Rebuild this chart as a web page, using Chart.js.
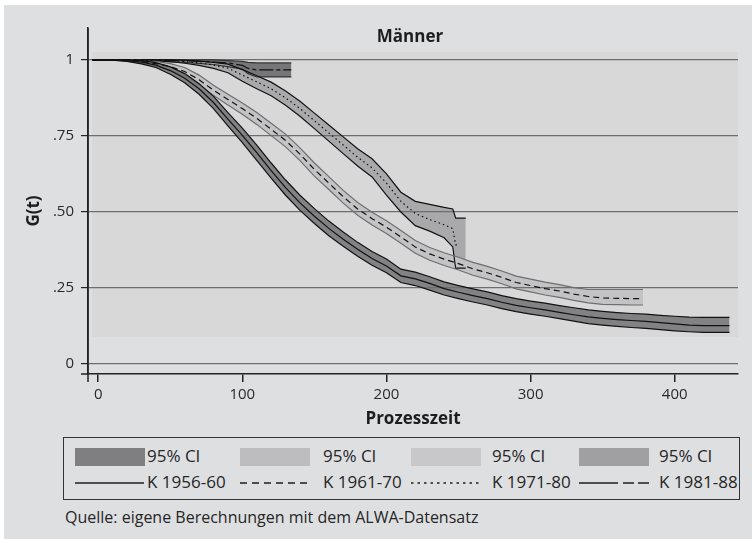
<!DOCTYPE html>
<html>
<head>
<meta charset="utf-8">
<script src="https://cdn.jsdelivr.net/npm/chart.js@4.4.1/dist/chart.umd.min.js"></script>
<style>
  html, body { margin: 0; padding: 0; background: #fff; }
  body { width: 752px; height: 539px; position: relative; overflow: hidden; font-family: "Open Sans", sans-serif; color: #222; }
  #panel { position: absolute; left: 4px; top: 5px; width: 748px; height: 534px; background: #dedfe1; }
  #wrap { position: absolute; left: 0; top: 0; width: 752px; height: 430px; }
  #title { position: absolute; left: 310px; top: 26px; width: 200px; text-align: center; font-size: 17px; line-height: 20px; font-weight: bold; color: #1e1e1e; }
  #ytitle { position: absolute; left: -17px; top: 201px; width: 100px; height: 20px; line-height: 20px; text-align: center; font-size: 17px; font-weight: bold; color: #1e1e1e; transform: rotate(-90deg); }
  .lbox { position: absolute; left: 63px; top: 437px; width: 675px; height: 61px; border: 1px solid #333; }
  .sw { position: absolute; top: 448px; width: 70px; height: 18px; }
  .lt { position: absolute; font-size: 17px; line-height: 20px; white-space: nowrap; color: #262626; }
  .r1 { top: 446px; }
  .r2 { top: 472px; }
  .ls { position: absolute; top: 480px; }
  #src { position: absolute; left: 65px; top: 507px; font-size: 16px; line-height: 20px; color: #262626; white-space: nowrap; }
</style>
</head>
<body>
<div id="panel"></div>
<div id="wrap"><canvas id="kmChart"></canvas></div>
<div id="title">Männer</div>
<div id="ytitle">G(t)</div>

<div class="lbox"></div>
<div class="sw" style="left:75px;background:#7f7f81"></div>
<div class="sw" style="left:240px;background:#bdbdbf"></div>
<div class="sw" style="left:411px;background:#c8c8ca"></div>
<div class="sw" style="left:579px;background:#a0a0a2"></div>
<div class="lt r1" style="left:147px">95% CI</div>
<div class="lt r1" style="left:323px">95% CI</div>
<div class="lt r1" style="left:492px">95% CI</div>
<div class="lt r1" style="left:659px">95% CI</div>
<svg class="ls" style="left:75px" width="70" height="6"><line x1="0" y1="3" x2="69" y2="3" stroke="#1e1e1e" stroke-width="1.5"/></svg>
<svg class="ls" style="left:240px" width="70" height="6"><line x1="0" y1="3" x2="68" y2="3" stroke="#1e1e1e" stroke-width="1.5" stroke-dasharray="7 5"/></svg>
<svg class="ls" style="left:411px" width="70" height="6"><line x1="0" y1="3" x2="69" y2="3" stroke="#1e1e1e" stroke-width="1.5" stroke-dasharray="2.5 4"/></svg>
<svg class="ls" style="left:579px" width="72" height="6"><line x1="0" y1="3" x2="70" y2="3" stroke="#1e1e1e" stroke-width="1.5" stroke-dasharray="39 5 11 4 11"/></svg>
<div class="lt r2" style="left:147px">K 1956-60</div>
<div class="lt r2" style="left:323px">K 1961-70</div>
<div class="lt r2" style="left:492px">K 1971-80</div>
<div class="lt r2" style="left:659px">K 1981-88</div>
<div id="src">Quelle: eigene Berechnungen mit dem ALWA-Datensatz</div>

<script>
// Axis ticks
const xTicks = [0, 100, 200, 300, 400];
const yTicks = [0, 0.25, 0.5, 0.75, 1];
const yTickLabels = ['0', '.25', '.50', '.75', '1'];

// K 1956-60
const t5660 = [-4, 10, 20, 30, 40, 50, 60, 70, 80, 90, 100, 110, 120, 130, 140, 150, 160, 170, 180, 190, 200, 210, 220, 230, 240, 250, 260, 270, 280, 290, 300, 310, 320, 330, 340, 350, 360, 370, 380, 390, 400, 410, 420, 430, 438];
const g5660 = [1.000, 1.000, 0.998, 0.993, 0.983, 0.965, 0.940, 0.905, 0.860, 0.805, 0.752, 0.695, 0.636, 0.580, 0.530, 0.486, 0.446, 0.410, 0.377, 0.347, 0.322, 0.290, 0.280, 0.265, 0.248, 0.236, 0.225, 0.215, 0.203, 0.193, 0.185, 0.178, 0.170, 0.162, 0.155, 0.150, 0.146, 0.143, 0.140, 0.136, 0.132, 0.128, 0.126, 0.126, 0.126];
const lo5660 = [1, 0.999, 0.995, 0.987, 0.975, 0.953, 0.925, 0.887, 0.840, 0.783, 0.728, 0.670, 0.611, 0.555, 0.505, 0.462, 0.422, 0.387, 0.354, 0.325, 0.300, 0.268, 0.258, 0.243, 0.227, 0.215, 0.204, 0.194, 0.182, 0.172, 0.164, 0.157, 0.149, 0.141, 0.133, 0.128, 0.124, 0.120, 0.117, 0.113, 0.109, 0.106, 0.104, 0.104, 0.104];
const hi5660 = [1, 1, 1, 0.998, 0.991, 0.977, 0.955, 0.922, 0.880, 0.827, 0.776, 0.720, 0.661, 0.605, 0.555, 0.511, 0.470, 0.434, 0.400, 0.370, 0.345, 0.312, 0.302, 0.287, 0.270, 0.258, 0.247, 0.237, 0.225, 0.215, 0.207, 0.200, 0.192, 0.185, 0.178, 0.173, 0.169, 0.166, 0.164, 0.160, 0.157, 0.154, 0.153, 0.153, 0.153];

// K 1961-70
const t6170 = [-4, 10, 20, 30, 40, 50, 60, 70, 80, 90, 100, 110, 120, 130, 140, 150, 160, 170, 180, 190, 200, 210, 220, 230, 240, 250, 260, 270, 280, 290, 300, 310, 320, 330, 340, 350, 360, 370, 378];
const g6170 = [1.000, 1.000, 0.999, 0.995, 0.988, 0.978, 0.962, 0.935, 0.900, 0.870, 0.840, 0.808, 0.772, 0.735, 0.690, 0.640, 0.595, 0.550, 0.510, 0.478, 0.450, 0.418, 0.385, 0.362, 0.345, 0.330, 0.313, 0.300, 0.285, 0.268, 0.258, 0.248, 0.240, 0.230, 0.222, 0.217, 0.216, 0.215, 0.215];
const lo6170 = [1, 0.999, 0.996, 0.989, 0.979, 0.966, 0.948, 0.919, 0.883, 0.852, 0.821, 0.788, 0.751, 0.714, 0.669, 0.618, 0.574, 0.529, 0.489, 0.457, 0.429, 0.397, 0.364, 0.341, 0.324, 0.309, 0.292, 0.279, 0.264, 0.247, 0.237, 0.227, 0.219, 0.209, 0.201, 0.196, 0.195, 0.194, 0.194];
const hi6170 = [1, 1, 1, 0.999, 0.995, 0.988, 0.975, 0.950, 0.917, 0.887, 0.858, 0.827, 0.792, 0.756, 0.711, 0.661, 0.616, 0.571, 0.531, 0.499, 0.471, 0.439, 0.406, 0.383, 0.366, 0.351, 0.334, 0.321, 0.306, 0.289, 0.279, 0.269, 0.261, 0.251, 0.245, 0.245, 0.245, 0.245, 0.245];

// K 1971-80
const t7180 = [-4, 10, 20, 30, 40, 50, 60, 70, 80, 90, 100, 110, 120, 130, 140, 150, 160, 170, 180, 190, 200, 210, 220, 230, 240, 246, 248, 255];
const g7180 = [1, 1, 1, 1, 0.999, 0.998, 0.995, 0.990, 0.983, 0.973, 0.950, 0.928, 0.905, 0.875, 0.840, 0.800, 0.760, 0.720, 0.680, 0.645, 0.595, 0.535, 0.495, 0.475, 0.458, 0.445, 0.392, 0.392];
const lo7180 = [1, 1, 1, 1, 0.997, 0.994, 0.989, 0.982, 0.972, 0.958, 0.930, 0.905, 0.882, 0.851, 0.815, 0.774, 0.733, 0.692, 0.651, 0.615, 0.555, 0.500, 0.455, 0.437, 0.415, 0.385, 0.315, 0.315];
const hi7180 = [1, 1, 1, 1, 1, 1, 0.999, 0.996, 0.992, 0.986, 0.968, 0.948, 0.927, 0.898, 0.864, 0.825, 0.786, 0.747, 0.708, 0.675, 0.625, 0.565, 0.535, 0.525, 0.515, 0.510, 0.480, 0.480];
// dotted estimate stops a little before the band
const tEnd7180 = 251;

// K 1981-88
const t8188 = [-4, 20, 40, 60, 80, 90, 100, 104, 110, 134];
const g8188 = [1, 1, 1, 0.997, 0.993, 0.990, 0.982, 0.972, 0.967, 0.967];
const lo8188 = [1, 1, 0.996, 0.992, 0.985, 0.978, 0.970, 0.955, 0.944, 0.944];
const hi8188 = [1, 1, 1, 1, 1, 0.998, 0.995, 0.992, 0.990, 0.990];

// shaded plot region (Stata plotregion), in data units
const plotRegion = { x0: -4.3, x1: 443.9, y0: 0.089, y1: 1.026 };

function pts(t, v) {
    return t.map((x, i) => ({ x: x, y: v[i] }));
}

// lower edge + upper edge filled down to it ('-1')
function band(t, lo, hi, fillColor, edgeColor) {
    return [
        { data: pts(t, lo), borderColor: edgeColor, borderWidth: 1.2, pointRadius: 0, fill: false, order: 1 },
        { data: pts(t, hi), borderColor: edgeColor, borderWidth: 1.2, pointRadius: 0, fill: '-1', backgroundColor: fillColor, order: 1 }
    ];
}

function curve(data, dash) {
    return { data: data, borderColor: '#111', borderWidth: 1.2, borderDash: dash, pointRadius: 0, fill: false, order: 0 };
}

const dots7180 = pts(t7180, g7180).slice(0, -1).concat([{ x: tEnd7180, y: g7180[g7180.length - 1] }]);

const bgPlugin = {
    id: 'plotBg',
    beforeDraw(chart) {
        const { ctx, scales: { x, y } } = chart;
        const l = x.getPixelForValue(plotRegion.x0), r = x.getPixelForValue(plotRegion.x1);
        const t = y.getPixelForValue(plotRegion.y1), b = y.getPixelForValue(plotRegion.y0);
        ctx.save();
        ctx.globalCompositeOperation = 'destination-over';
        ctx.fillStyle = '#d8d8d8';
        ctx.fillRect(l, t, r - l, b - t);
        ctx.restore();
    },
    afterDraw(chart) {
        // full y axis line plus the small overhangs at the corner
        const { ctx, chartArea } = chart;
        ctx.save();
        ctx.strokeStyle = '#222';
        ctx.lineWidth = 1.5;
        ctx.beginPath();
        ctx.moveTo(chartArea.left, chartArea.top);
        ctx.lineTo(chartArea.left, chartArea.bottom + 8);
        ctx.moveTo(chartArea.left - 7, chartArea.bottom);
        ctx.lineTo(chartArea.left, chartArea.bottom);
        ctx.stroke();
        ctx.restore();
    }
};

const tickFont = { family: 'Open Sans', size: 15 };

const ctx = document.getElementById('kmChart').getContext('2d');
const kmChart = new Chart(ctx, {
    type: 'line',
    data: {
        // curves first: a band edge at dataset index 0 would never get filled
        datasets: [
            curve(pts(t5660, g5660), []),
            curve(pts(t6170, g6170), [6, 4]),
            curve(dots7180, [1.5, 3]),
            curve(pts(t8188, g8188), [14, 3, 4, 3]),
            ...band(t5660, lo5660, hi5660, '#828284', '#111'),
            ...band(t6170, lo6170, hi6170, '#c3c3c5', '#6e6e6e'),
            ...band(t7180, lo7180, hi7180, '#a9a9ab', '#111'),
            ...band(t8188, lo8188, hi8188, '#767678', '#333')
        ]
    },
    options: {
        responsive: true,
        maintainAspectRatio: false,
        animation: false,
        layout: { padding: { top: 28, right: 14, left: 0, bottom: 0 } },
        plugins: {
            legend: { display: false },
            tooltip: { enabled: false },
            filler: { drawTime: 'beforeDraw' }
        },
        scales: {
            x: {
                type: 'linear',
                min: -7.08,
                max: 443.9,
                afterBuildTicks: s => { s.ticks = xTicks.map(v => ({ value: v })); },
                afterFit: s => { s.height = 56; },
                ticks: { font: tickFont, color: '#2a2a2a', padding: 4, maxRotation: 0 },
                grid: { drawOnChartArea: false, tickLength: 8, color: '#222', lineWidth: 1.5 },
                border: { display: true, color: '#222', width: 1.5 },
                title: {
                    display: true,
                    text: 'Prozesszeit',
                    font: { family: 'Open Sans', size: 17, weight: 'bold' },
                    color: '#1e1e1e',
                    padding: { top: 0, bottom: 1 }
                }
            },
            y: {
                type: 'linear',
                min: -0.0329,
                max: 1.105,
                afterBuildTicks: s => { s.ticks = yTicks.map(v => ({ value: v })); },
                afterFit: s => { s.width = 88; },
                ticks: {
                    font: tickFont,
                    color: '#2a2a2a',
                    padding: 7,
                    callback: v => yTickLabels[yTicks.indexOf(v)]
                },
                grid: { color: '#6e6e6e', lineWidth: 1.2, tickLength: 7, tickColor: '#222' },
                border: { display: true, color: '#222', width: 1.5 }
            }
        }
    },
    plugins: [bgPlugin]
});
</script>
</body>
</html>
